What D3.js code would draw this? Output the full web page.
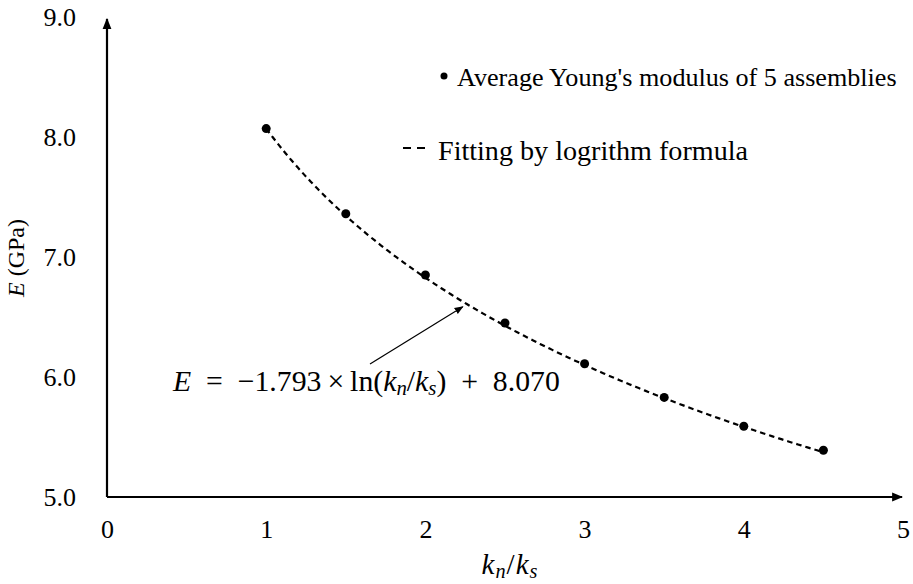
<!DOCTYPE html>
<html>
<head>
<meta charset="utf-8">
<script src="https://cdn.jsdelivr.net/npm/d3@7"></script>
<style>
body{margin:0;background:#fff}
svg{display:block}
text{font-family:"Liberation Serif","Times New Roman",serif;fill:#000}
</style>
</head>
<body>
<svg id="chart" width="913" height="584"></svg>
<script>
// data
let ratios=[1,1.5,2,2.5,3,3.5,4,4.5]
let modulus=[8.07,7.36,6.85,6.45,6.11,5.83,5.59,5.39]
// fitted trend shown on the chart: E = a*ln(kn/ks)+b
let fitA=-1.793, fitB=8.070
let xTicks=[0,1,2,3,4,5]
let yTicks=[5,6,7,8,9]

let svg=d3.select("#chart")

let x=d3.scaleLinear().domain([0,5]).range([107,903])
let y=d3.scaleLinear().domain([5,9]).range([497,17])

// shrink/grow a text so it takes the width seen in the reference
function fitWidth(sel,w){
let fs=parseFloat(sel.attr("font-size"))
let len=sel.node().getComputedTextLength()
if(len>0) sel.attr("font-size",fs*w/len)
}

let defs=svg.append("defs")
defs.append("marker").attr("id","ah")
.attr("viewBox","0 0 10 10").attr("refX",9).attr("refY",5)
.attr("markerWidth",5).attr("markerHeight",5).attr("orient","auto")
.append("path").attr("d","M0,1L10,5L0,9Z").attr("fill","#000")
defs.append("marker").attr("id","ah2")
.attr("viewBox","0 0 10 10").attr("refX",9).attr("refY",5)
.attr("markerWidth",9).attr("markerHeight",9).attr("orient","auto")
.attr("markerUnits","userSpaceOnUse")
.append("path").attr("d","M0,1L10,5L0,9Z").attr("fill","#000")

// axes
let gx=svg.append("g").attr("transform","translate(0,497)")
.call(d3.axisBottom(x).tickValues(xTicks).tickSize(0).tickPadding(23).tickFormat(d3.format("d")))
gx.select(".domain").remove()
gx.selectAll("text").attr("font-size",26).attr("font-family","Liberation Serif")

let gy=svg.append("g").attr("transform","translate(107,0)")
.call(d3.axisLeft(y).tickValues(yTicks).tickSize(0).tickPadding(31).tickFormat(d3.format(".1f")))
gy.select(".domain").remove()
gy.selectAll("text").attr("font-size",26).attr("font-family","Liberation Serif")

svg.append("line")
.attr("x1",x(0)).attr("x2",x(5)-1)
.attr("y1",y(5)).attr("y2",y(5))
.attr("stroke","#000").attr("stroke-width",2.2)
.attr("marker-end","url(#ah)")
svg.append("line")
.attr("x1",x(0)).attr("x2",x(0))
.attr("y1",y(5)).attr("y2",y(9)+2)
.attr("stroke","#000").attr("stroke-width",2.2)
.attr("marker-end","url(#ah)")

// axis titles
svg.append("text")
.attr("transform","translate(24,258) rotate(-90)")
.attr("text-anchor","middle").attr("font-size",24)
.call(t=>{
t.append("tspan").attr("font-style","italic").text("E")
t.append("tspan").text(" (GPa)")
})

svg.append("text")
.attr("x",510).attr("y",574)
.attr("text-anchor","middle").attr("font-size",29).attr("font-style","italic")
.attr("letter-spacing",1)
.call(t=>{
t.append("tspan").text("k")
t.append("tspan").attr("font-size","0.7em").attr("dy","0.2em").text("n")
t.append("tspan").attr("dy","-0.14em").attr("font-style","normal").text("/")
t.append("tspan").text("k")
t.append("tspan").attr("font-size","0.7em").attr("dy","0.2em").text("s")
})

// fitted curve
let fitX=d3.range(ratios[0],ratios[ratios.length-1]+0.001,0.02)
let line=d3.line().x(d=>x(d)).y(d=>y(fitA*Math.log(d)+fitB))
svg.append("path").datum(fitX)
.attr("d",line)
.attr("fill","none").attr("stroke","#000")
.attr("stroke-width",2.2).attr("stroke-dasharray","5.5,4")

// points
svg.selectAll("circle.pt")
.data(ratios)
.enter()
.append("circle")
.attr("class","pt")
.attr("cx",d=>x(d))
.attr("cy",(d,i)=>y(modulus[i]))
.attr("r",4.5)
.attr("fill","#000")

// legend
svg.append("circle").attr("cx",444).attr("cy",76).attr("r",3.5).attr("fill","#000")
let l1=svg.append("text").attr("x",457).attr("y",86).attr("font-size",26)
.text("Average Young's modulus of 5 assemblies")
fitWidth(l1,440)
svg.append("line").attr("x1",403).attr("x2",427).attr("y1",148).attr("y2",148)
.attr("stroke","#000").attr("stroke-width",2).attr("stroke-dasharray","8,6")
let l2=svg.append("text").attr("x",438).attr("y",160).attr("font-size",26)
.text("Fitting by logrithm formula")
fitWidth(l2,310)

// equation annotation
svg.append("line")
.attr("x1",x(1.652)).attr("y1",y(6.108))
.attr("x2",x(2.235)).attr("y2",y(6.585))
.attr("stroke","#000").attr("stroke-width",1.2)
.attr("marker-end","url(#ah2)")

let eq=svg.append("text")
.attr("x",173).attr("y",391).attr("font-size",26)
.call(t=>{
t.append("tspan").attr("font-style","italic").text("E")
t.append("tspan").text("\u2002=\u2002\u22121.793\u2009×\u2009ln(")
t.append("tspan").attr("font-style","italic").text("k")
t.append("tspan").attr("font-style","italic").attr("font-size","0.7em").attr("dy","0.2em").text("n")
t.append("tspan").attr("dy","-0.14em").text("/")
t.append("tspan").attr("font-style","italic").text("k")
t.append("tspan").attr("font-style","italic").attr("font-size","0.7em").attr("dy","0.2em").text("s")
t.append("tspan").attr("dy","-0.14em").text(")\u2002+\u20028.070")
})
fitWidth(eq,387)
</script>
</body>
</html>
